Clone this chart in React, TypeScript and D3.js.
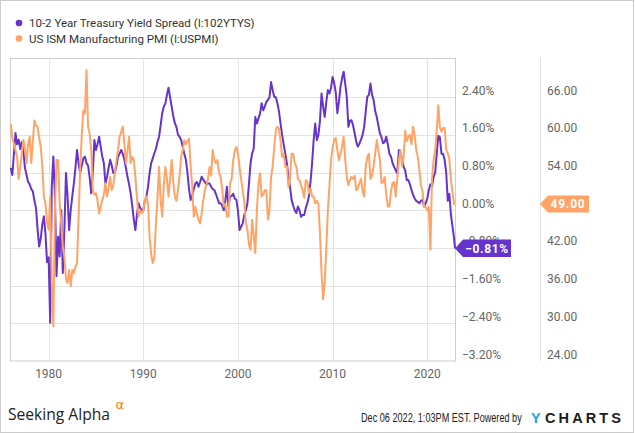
import React from 'react';
import * as d3 from 'd3';

// ---------- DATA ----------
const START_YEAR = 1976;
const STEP = 1 / 6; // bimonthly samples
const LAST_DATE = 2022.93;

const spreadValues: number[] = [
  // 1976
  0.9, 0.75, 1.2, 1.64, 1.4, 1.5,
  // 1977
  1.3, 1.45, 1.25, 0.9, 0.75, 0.6,
  // 1978
  0.55, 0.45, 0.4, 0.2, 0.05, -0.4,
  // 1979
  -0.77, -0.6, -0.3, -0.13, -0.5, -1.1,
  // 1980
  -1.0, -2.39, 0.5, 1.14, 0.3, -1.4,
  // 1981
  -0.56, -0.98, 0.0, -1.33, -0.4, 0.79,
  // 1982
  0.3, -0.42, 0.0, 0.3, 0.57, 0.9,
  // 1983
  1.28, 1.0, 0.79, 0.95, 1.1, 1.14,
  // 1984
  1.0, 0.95, 0.7, 0.36, 0.8, 1.49,
  // 1985
  1.28, 1.4, 1.56, 1.35, 1.14, 1.0,
  // 1986
  0.57, 0.7, 0.9, 1.07, 0.95, 0.79,
  // 1987
  0.79, 0.95, 1.14, 1.2, 1.28, 1.2,
  // 1988
  1.07, 0.9, 0.71, 0.55, 0.36, 0.1,
  // 1989
  -0.2, -0.42, -0.1, 0.15, 0.05, 0.0,
  // 1990
  0.0, 0.2, 0.29, 0.5, 0.79, 1.0,
  // 1991
  1.1, 1.21, 1.3, 1.45, 1.56, 1.8,
  // 1992
  2.06, 2.2, 2.27, 2.45, 2.6, 2.4,
  // 1993
  2.2, 2.0, 1.85, 1.77, 1.6, 1.56,
  // 1994
  1.49, 1.35, 1.2, 1.07, 0.8, 0.45,
  // 1995
  0.22, 0.3, 0.45, 0.57, 0.6, 0.5,
  // 1996
  0.6, 0.71, 0.65, 0.6, 0.55, 0.57,
  // 1997
  0.57, 0.5, 0.45, 0.43, 0.35, 0.25,
  // 1998
  0.15, 0.15, 0.1, 0.0, 0.2, 0.5,
  // 1999
  0.08, 0.29, 0.3, 0.35, 0.25, 0.22,
  // 2000
  0.0, -0.42, -0.35, -0.28, -0.1, 0.0,
  // 2001
  0.15, 0.57, 1.0, 1.21, 1.31, 1.98,
  // 2002
  1.84, 1.95, 2.05, 2.27, 2.12, 2.2,
  // 2003
  2.3, 2.34, 2.4, 2.72, 2.55, 2.41,
  // 2004
  2.4, 2.27, 2.1, 1.84, 1.6, 1.4,
  // 2005
  1.2, 1.0, 0.71, 0.5, 0.22, 0.1,
  // 2006
  0.0, -0.06, 0.08, 0.0, -0.14, -0.1,
  // 2007
  -0.1, 0.05, 0.15, 0.3, 0.6, 1.0,
  // 2008
  1.5, 1.84, 1.49, 1.6, 1.9, 2.48,
  // 2009
  2.2, 1.98, 2.3, 2.55, 2.48, 2.6,
  // 2010
  2.83, 2.7, 2.5, 2.06, 2.3, 2.62,
  // 2011
  2.8, 2.94, 2.69, 2.4, 1.77, 1.9,
  // 2012
  1.91, 1.8, 1.63, 1.45, 1.35, 1.42,
  // 2013
  1.5, 1.6, 1.77, 2.1, 2.41, 2.45,
  // 2014
  2.69, 2.45, 2.34, 2.1, 1.98, 1.8,
  // 2015
  1.63, 1.55, 1.42, 1.45, 1.56, 1.4,
  // 2016
  1.2, 1.14, 1.0, 0.92, 0.85, 0.78,
  // 2017
  1.28, 1.21, 1.1, 0.92, 0.85, 0.64,
  // 2018
  0.64, 0.55, 0.43, 0.33, 0.25, 0.2,
  // 2019
  0.18, 0.15, 0.2, 0.22, 0.08, 0.15,
  // 2020
  0.25, 0.43, 0.55, 0.5, 0.71, 0.8,
  // 2021
  1.2, 1.58, 1.55, 1.2, 1.2, 1.07,
  // 2022
  0.8, 0.2, 0.35, -0.1, -0.35, -0.6,
];
const LAST_SPREAD = -0.81;

const pmiValues: number[] = [
  // 1976
  61.8, 59.5, 58.6, 57.5, 56.5, 53,
  // 1977
  55, 57, 59.2, 58, 55.5, 58.5,
  // 1978
  59.7, 55.5, 59, 62.3, 61.5, 61.3,
  // 1979
  59.5, 58.1, 55, 50.2, 49.1, 46,
  // 1980
  44.9, 50.2, 36.4, 29.5, 48, 56,
  // 1981
  56, 49.1, 45.9, 42.2, 40.6, 37,
  // 1982
  36.4, 38.5, 35.9, 38.5, 38, 39,
  // 1983
  39.6, 47, 54.4, 60, 63.9, 63.4,
  // 1984
  70.3, 61.3, 60.2, 57.6, 51.2, 50.5,
  // 1985
  50.7, 49.5, 47.5, 48.5, 49.6, 50.5,
  // 1986
  52.3, 50.2, 51.5, 53.3, 51.2, 52,
  // 1987
  54, 56, 57.6, 59.7, 60.5, 61.3,
  // 1988
  58.6, 55.5, 57.5, 59.7, 55.5, 56.5,
  // 1989
  56, 53.3, 50, 47, 48, 47.5,
  // 1990
  48, 49.6, 50.2, 49, 43.8, 41,
  // 1991
  39.6, 40.5, 45.9, 50, 54.9, 49.5,
  // 1992
  47, 52, 54.9, 53, 50.2, 53,
  // 1993
  56, 52.5, 50.2, 49.5, 51.2, 53.5,
  // 1994
  56.5, 57.5, 59.2, 58.5, 59, 59.4,
  // 1995
  55, 52, 47, 48.5, 47.5, 46.5,
  // 1996
  45.9, 47.5, 49.5, 51.2, 52, 53,
  // 1997
  54.9, 53.5, 57.6, 56, 55.5, 56,
  // 1998
  54, 53.3, 51.5, 48.6, 49, 47,
  // 1999
  47, 52.3, 53, 56, 57.5, 58.1,
  // 2000
  57, 54.9, 53, 51.2, 49.5, 46,
  // 2001
  44.9, 42.5, 41.7, 46.5, 44, 41.2,
  // 2002
  48, 52.3, 53.9, 50.2, 50.5, 51.2,
  // 2003
  51.2, 46.5, 48, 53.3, 55, 58,
  // 2004
  60.7, 61.3, 61, 59, 56.5, 57,
  // 2005
  54.9, 55, 51.7, 53, 57, 57,
  // 2006
  55.5, 55, 53, 52.8, 52, 51.2,
  // 2007
  50, 52.8, 52.5, 50.7, 51.5, 50.2,
  // 2008
  50.2, 49.1, 49.5, 49, 44.3, 38,
  // 2009
  33.8, 36.5, 42, 48, 52, 56,
  // 2010
  58, 59.2, 59.5, 57.6, 56, 57,
  // 2011
  58.1, 59.7, 56, 53.3, 52, 52.8,
  // 2012
  53.3, 53, 53.5, 51.2, 51.5, 52.3,
  // 2013
  53, 51, 50.2, 55, 56.5, 57,
  // 2014
  53, 53.5, 55, 57, 59.2, 57.5,
  // 2015
  56, 52.3, 52.5, 53.3, 50.5, 48.6,
  // 2016
  48.6, 51, 52.3, 52.5, 50.2, 53,
  // 2017
  56, 57.6, 55, 56.5, 60.7, 59,
  // 2018
  59.7, 60, 58.5, 61.3, 60, 57.6,
  // 2019
  56.5, 54.4, 52, 51, 48.6, 48.5,
  // 2020
  48, 48.5, 41.7, 53, 56, 57.5,
  // 2021
  60.7, 64.7, 61.2, 60.5, 61.1, 61.1,
  // 2022
  57.6, 57.1, 56.1, 52.8, 50.9, 49.0,
];
const LAST_PMI = 49.0;

const yearTicks = [1980, 1990, 2000, 2010, 2020];
const spreadTicks = [3.2, 2.4, 1.6, 0.8, 0, -0.8, -1.6, -2.4, -3.2];
// right-axis labels that are visible (48.00 sits under the last-value flag)
const pmiTicks = [66, 60, 54, 42, 36, 30, 24];

const seriesNames = [
  '10-2 Year Treasury Yield Spread (I:102YTYS)',
  'US ISM Manufacturing PMI (I:USPMI)',
];

// ---------- STYLE ----------
const PURPLE = '#6633cc';
const ORANGE = '#ffa366';
const GRID = '#e3e3e3';
const BORDER = '#cccccc';
const FONT = 'Roboto, "Noto Sans", sans-serif';

type Pt = { t: number; v: number };

function toPoints(vals: number[], last: number): Pt[] {
  const pts = vals.map((v, i) => ({ t: START_YEAR + i * STEP, v }));
  pts.push({ t: LAST_DATE, v: last });
  return pts;
}

export default function App() {
  const W = 635;
  const H = 433;
  const L = 10, R = 455, T = 58, B = 361;
  const SEP = 540;

  const x = d3.scaleLinear().domain([1975.92, LAST_DATE]).range([L, R]);
  const yS = d3.scaleLinear().domain([-3.2, 3.2]).range([361, 59.5]);
  const yP = d3.scaleLinear().domain([24, 72]).range([361, 59.5]);

  const spreadPts = toPoints(spreadValues, LAST_SPREAD);
  const pmiPts = toPoints(pmiValues, LAST_PMI);

  const lineS = d3.line<Pt>().x(d => x(d.t)).y(d => yS(d.v));
  const lineP = d3.line<Pt>().x(d => x(d.t)).y(d => yP(d.v));

  const fmtPct = (v: number) => d3.format('.2f')(v) + '%';
  const fmtNum = d3.format('.2f');

  const sY = yS(LAST_SPREAD);
  const pY = yP(LAST_PMI);

  return (
    <svg width={W} height={H} style={{ position: 'absolute', left: 0, top: 0, background: '#fff' }}
      fontFamily={FONT}>
      <rect x={0.5} y={0.5} width={W - 2} height={H - 1} fill="#fff" stroke={BORDER} />

      {/* legend */}
      {seriesNames.map((n, i) => (
        <g key={n}>
          <circle cx={19} cy={23 + i * 15.5} r={3.3} fill={i === 0 ? PURPLE : ORANGE} />
          <text x={29} y={27 + i * 15.5} fontSize={11.5} fill="#333">{n}</text>
        </g>
      ))}

      {/* gridlines */}
      {spreadTicks.filter(t => t < 3.2 && t > -3.2).map(t => (
        <line key={'h' + t} x1={L} x2={R} y1={Math.round(yS(t)) + 0.5} y2={Math.round(yS(t)) + 0.5} stroke={GRID} />
      ))}
      {yearTicks.map(yr => (
        <line key={'v' + yr} x1={Math.round(x(yr)) + 0.5} x2={Math.round(x(yr)) + 0.5} y1={T} y2={B} stroke={GRID} />
      ))}

      {/* plot border */}
      <rect x={L + 0.5} y={T + 0.5} width={R - L} height={B - T - 0.5} fill="none" stroke={BORDER} />
      <line x1={SEP + 0.5} x2={SEP + 0.5} y1={T} y2={B} stroke={GRID} />

      {/* lines */}
      <path d={lineS(spreadPts) || ''} fill="none" stroke={PURPLE} strokeWidth={2} strokeLinejoin="round" />
      <path d={lineP(pmiPts) || ''} fill="none" stroke={ORANGE} strokeWidth={2} strokeLinejoin="round" />

      {/* x axis labels */}
      {yearTicks.map(yr => (
        <text key={'xl' + yr} x={x(yr)} y={377.5} fontSize={12} fill="#666" textAnchor="middle">{yr}</text>
      ))}

      {/* left value axis labels */}
      {spreadTicks.filter(t => t < 3.2).map(t => (
        <text key={'sl' + t} x={462} y={yS(t) - 2.5} fontSize={12} fill="#666">{fmtPct(t)}</text>
      ))}
      {pmiTicks.map(t => (
        <text key={'pl' + t} x={547} y={yP(t) - 2.5} fontSize={12} fill="#666">{fmtNum(t)}</text>
      ))}

      {/* last value flags */}
      <path d={`M${R},${sY} L${R + 8},${sY - 9} L${511},${sY - 9} L${511},${sY + 8.5} L${R + 8},${sY + 8.5} Z`} fill={PURPLE} />
      <text x={487} y={sY + 4.5} fontSize={12} fontWeight="bold" fill="#fff" textAnchor="middle" letterSpacing={0.6}>{fmtPct(LAST_SPREAD)}</text>

      <path d={`M${SEP},${pY} L${SEP + 8},${pY - 8.5} L${589},${pY - 8.5} L${589},${pY + 8.5} L${SEP + 8},${pY + 8.5} Z`} fill={ORANGE} />
      <text x={568} y={pY + 4.5} fontSize={12} fontWeight="bold" fill="#fff" textAnchor="middle" letterSpacing={0.8}>{fmtNum(LAST_PMI)}</text>

      {/* footer */}
      <text x={8} y={420} fontSize={17} fill="#222" fontFamily='"Open Sans", sans-serif' textLength={102} lengthAdjust="spacingAndGlyphs">Seeking Alpha</text>
      <text x={115.5} y={409} fontSize={13} fill="#ff7a00" fontFamily='"DejaVu Sans", sans-serif'>α</text>

      <g transform="translate(361,422) scale(0.82,1)">
        <text x={0} y={0} fontSize={12} fill="#222" fontFamily='"Liberation Sans", Arial, sans-serif' textLength={196} lengthAdjust="spacingAndGlyphs">Dec 06 2022, 1:03PM EST.  Powered by</text>
      </g>
      <text x={531} y={422.5} fontSize={14.5} fontWeight="bold" fill="#1ea4e9" fontFamily='"Liberation Sans", Arial, sans-serif'>Y</text>
      <text x={545} y={422.5} fontSize={14.5} fontWeight="bold" fill="#1c1c1c" fontFamily='"Liberation Sans", Arial, sans-serif' letterSpacing={3.1}>CHARTS</text>
    </svg>
  );
}
